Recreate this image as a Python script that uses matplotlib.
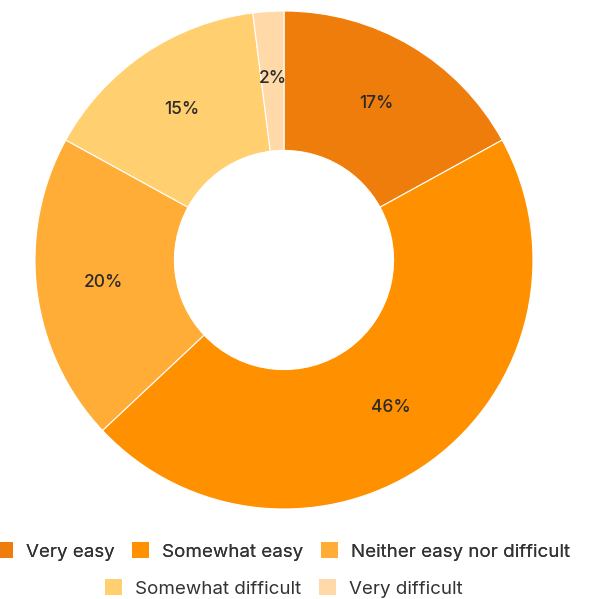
import matplotlib

matplotlib.use("Agg")
import matplotlib.pyplot as plt
from matplotlib.patches import Patch

plt.rcParams["font.family"] = ["Inter", "DejaVu Sans"]

# ease-of-use survey shares (clockwise from 12 o'clock)
categories = ["Very easy", "Somewhat easy", "Neither easy nor difficult",
              "Somewhat difficult", "Very difficult"]
shares = [17, 46, 20, 15, 2]
colors = ["#EF7D0B", "#FF9100", "#FFAD36", "#FFCF70", "#FFDAA8"]
TEXT = "#2a2a2a"

fig = plt.figure(figsize=(5.95, 5.99), dpi=100)
ax = fig.add_axes([35 / 595, 1 - 509 / 599, 498 / 595, 498 / 599])

wedges, _, autotexts = ax.pie(
    shares, colors=colors, startangle=90, counterclock=False,
    radius=1.0, autopct=lambda p: f"{p:.0f}%", pctdistance=0.73,
    wedgeprops=dict(width=0.56, edgecolor="white", linewidth=0.8),
    textprops=dict(color=TEXT, fontsize=12.5, fontweight="medium"))
ax.set_xlim(-1, 1)
ax.set_ylim(-1, 1)
ax.set_aspect("equal")
ax.axis("off")

# legend in two centred rows
def handles(idx):
    return [Patch(facecolor=colors[i], edgecolor="none", label=categories[i]) for i in idx]

common = dict(frameon=False, fontsize=13.5, handlelength=0.9, handleheight=0.9,
              handletextpad=0.7, columnspacing=0.95, labelcolor="#333333",
              loc="center", borderpad=0, borderaxespad=0)
leg1 = fig.legend(handles=handles([0, 1, 2]), ncol=3,
                  bbox_to_anchor=(283 / 595, 1 - 551.5 / 599), **common)
fig.legend(handles=handles([3, 4]), ncol=2,
           bbox_to_anchor=(283.5 / 595, 1 - 588.5 / 599), **common)
fig.add_artist(leg1)

fig.savefig("out.png", dpi=100)
